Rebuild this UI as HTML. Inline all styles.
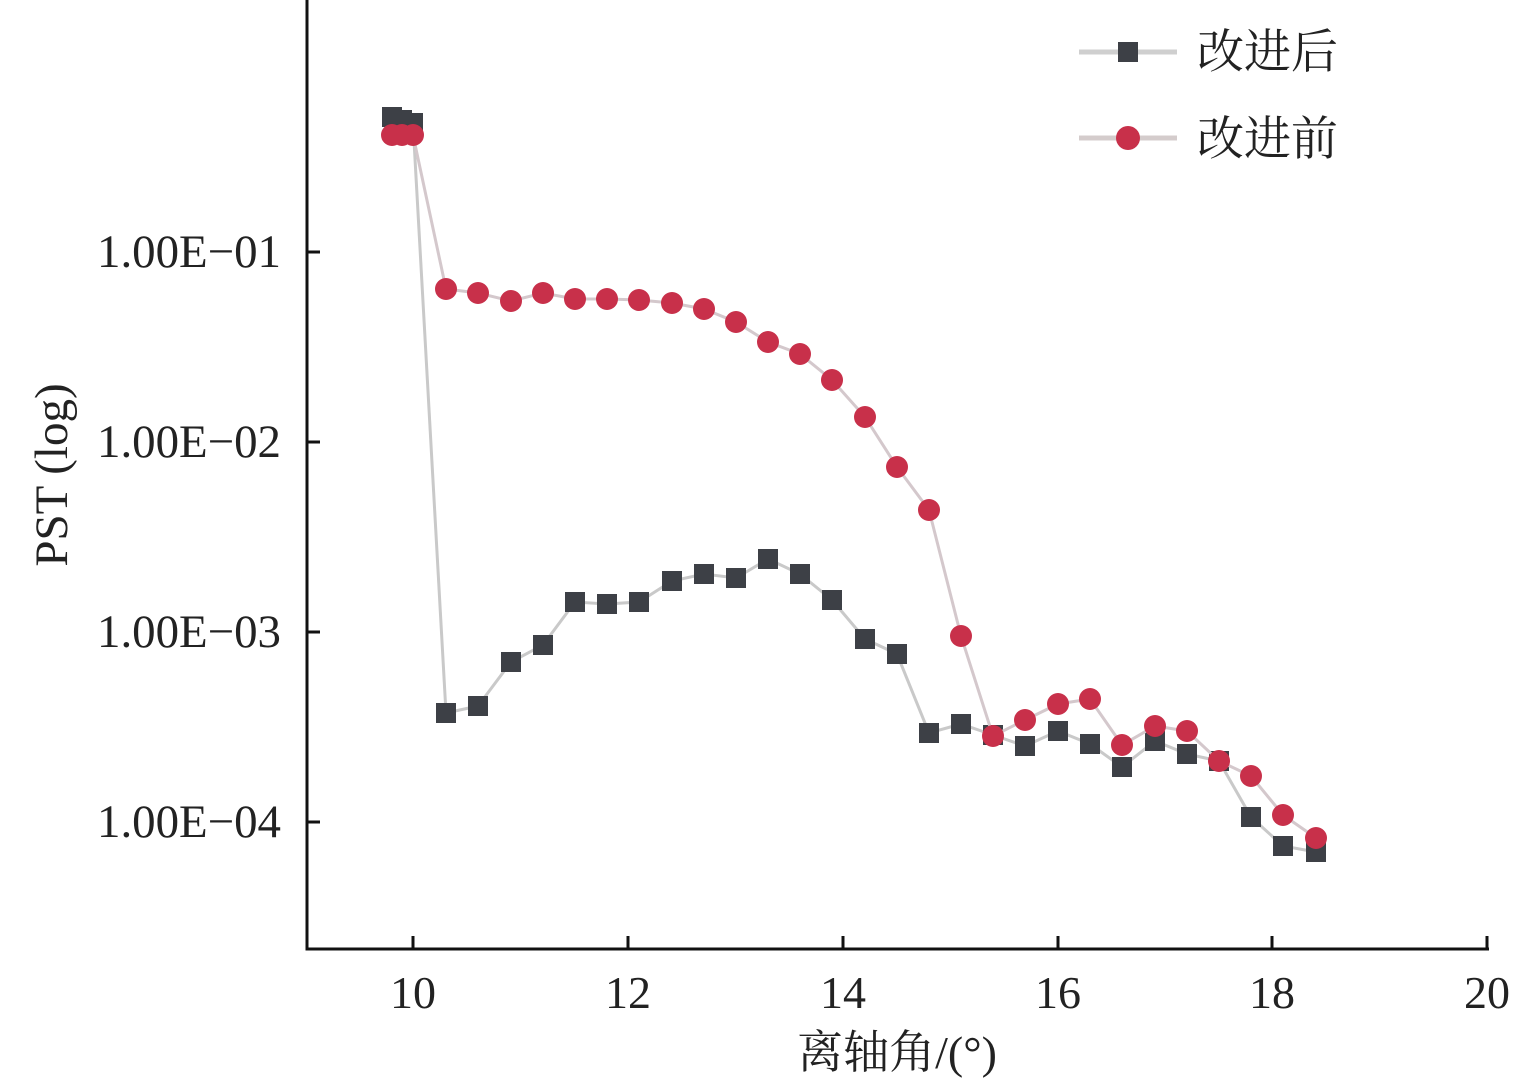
<!DOCTYPE html>
<html><head><meta charset="utf-8"><style>
html,body{margin:0;padding:0;background:#fff;}
svg{display:block;}
text{font-family:"Liberation Serif","Noto Serif CJK SC",serif;fill:#222;}
</style></head><body>
<svg width="1535" height="1084" viewBox="0 0 1535 1084">
<g stroke="#111" stroke-width="3" fill="none">
<line x1="307" y1="0" x2="307" y2="949"/>
<line x1="305.5" y1="949" x2="1489" y2="949"/>
<line x1="307" y1="252" x2="320" y2="252"/>
<line x1="307" y1="442" x2="320" y2="442"/>
<line x1="307" y1="632" x2="320" y2="632"/>
<line x1="307" y1="822" x2="320" y2="822"/>
<line x1="413" y1="949" x2="413" y2="936"/>
<line x1="628" y1="949" x2="628" y2="936"/>
<line x1="843" y1="949" x2="843" y2="936"/>
<line x1="1058" y1="949" x2="1058" y2="936"/>
<line x1="1272" y1="949" x2="1272" y2="936"/>
<line x1="1487" y1="949" x2="1487" y2="936"/>
</g>
<g font-size="47" text-anchor="end">
<text x="281" y="267" textLength="184" lengthAdjust="spacingAndGlyphs">1.00E−01</text>
<text x="281" y="457" textLength="184" lengthAdjust="spacingAndGlyphs">1.00E−02</text>
<text x="281" y="647" textLength="184" lengthAdjust="spacingAndGlyphs">1.00E−03</text>
<text x="281" y="837" textLength="184" lengthAdjust="spacingAndGlyphs">1.00E−04</text>
</g>
<g font-size="46" text-anchor="middle">
<text x="413" y="1008">10</text>
<text x="628" y="1008">12</text>
<text x="843" y="1008">14</text>
<text x="1058" y="1008">16</text>
<text x="1272" y="1008">18</text>
<text x="1487" y="1008">20</text>
</g>
<text x="897" y="1068" font-size="46" text-anchor="middle">离轴角/(°)</text>
<text transform="translate(67,475) rotate(-90)" font-size="47" text-anchor="middle">PST (log)</text>

<polyline fill="none" stroke="#c9c9c9" stroke-width="3" points="392,117 402,120 413,123 446,713 478,706 511,662 543,645 575,602 607,604 639,602 672,581 704,574 736,578 768,559 800,574 832,600 865,639 897,654 929,733 961,724 993,735 1025,746 1058,731 1090,744 1122,767 1155,741 1187,754 1219,761 1251,817 1283,846 1316,852"/>
<g fill="#3d4046">
<rect x="382" y="107" width="20" height="20"/><rect x="392" y="110" width="20" height="20"/><rect x="403" y="113" width="20" height="20"/>
<rect x="436" y="703" width="20" height="20"/><rect x="468" y="696" width="20" height="20"/><rect x="501" y="652" width="20" height="20"/><rect x="533" y="635" width="20" height="20"/><rect x="565" y="592" width="20" height="20"/><rect x="597" y="594" width="20" height="20"/><rect x="629" y="592" width="20" height="20"/><rect x="662" y="571" width="20" height="20"/><rect x="694" y="564" width="20" height="20"/><rect x="726" y="568" width="20" height="20"/><rect x="758" y="549" width="20" height="20"/><rect x="790" y="564" width="20" height="20"/><rect x="822" y="590" width="20" height="20"/><rect x="855" y="629" width="20" height="20"/><rect x="887" y="644" width="20" height="20"/><rect x="919" y="723" width="20" height="20"/><rect x="951" y="714" width="20" height="20"/><rect x="983" y="725" width="20" height="20"/><rect x="1015" y="736" width="20" height="20"/><rect x="1048" y="721" width="20" height="20"/><rect x="1080" y="734" width="20" height="20"/><rect x="1112" y="757" width="20" height="20"/><rect x="1145" y="731" width="20" height="20"/><rect x="1177" y="744" width="20" height="20"/><rect x="1209" y="751" width="20" height="20"/><rect x="1241" y="807" width="20" height="20"/><rect x="1273" y="836" width="20" height="20"/><rect x="1306" y="842" width="20" height="20"/>
</g>
<polyline fill="none" stroke="#d4c8cc" stroke-width="3" points="392,135 402,135 413,135 446,289 478,293 511,301 543,293 575,299 607,299 639,300 672,303 704,309 736,322 768,342 800,354 832,380 865,417 897,467 929,510 961,636 993,736 1025,720 1058,704 1090,699 1122,745 1155,726 1187,731 1219,761 1251,776 1283,815 1316,838"/>
<g fill="#c8304a">
<circle cx="392" cy="135" r="11"/><circle cx="402" cy="135" r="11"/><circle cx="413" cy="135" r="11"/><circle cx="446" cy="289" r="11"/><circle cx="478" cy="293" r="11"/><circle cx="511" cy="301" r="11"/><circle cx="543" cy="293" r="11"/><circle cx="575" cy="299" r="11"/><circle cx="607" cy="299" r="11"/><circle cx="639" cy="300" r="11"/><circle cx="672" cy="303" r="11"/><circle cx="704" cy="309" r="11"/><circle cx="736" cy="322" r="11"/><circle cx="768" cy="342" r="11"/><circle cx="800" cy="354" r="11"/><circle cx="832" cy="380" r="11"/><circle cx="865" cy="417" r="11"/><circle cx="897" cy="467" r="11"/><circle cx="929" cy="510" r="11"/><circle cx="961" cy="636" r="11"/><circle cx="993" cy="736" r="11"/><circle cx="1025" cy="720" r="11"/><circle cx="1058" cy="704" r="11"/><circle cx="1090" cy="699" r="11"/><circle cx="1122" cy="745" r="11"/><circle cx="1155" cy="726" r="11"/><circle cx="1187" cy="731" r="11"/><circle cx="1219" cy="761" r="11"/><circle cx="1251" cy="776" r="11"/><circle cx="1283" cy="815" r="11"/><circle cx="1316" cy="838" r="11"/>
</g>
<line x1="1079" y1="52" x2="1177" y2="52" stroke="#cfcfcf" stroke-width="5"/>
<rect x="1118" y="42" width="20" height="20" fill="#3d4046"/>
<line x1="1079" y1="138" x2="1177" y2="138" stroke="#d4cccc" stroke-width="5"/>
<circle cx="1128" cy="138" r="12" fill="#c8304a"/>
<text x="1197" y="68" font-size="47">改进后</text>
<text x="1197" y="155" font-size="47">改进前</text>
</svg>
</body></html>
